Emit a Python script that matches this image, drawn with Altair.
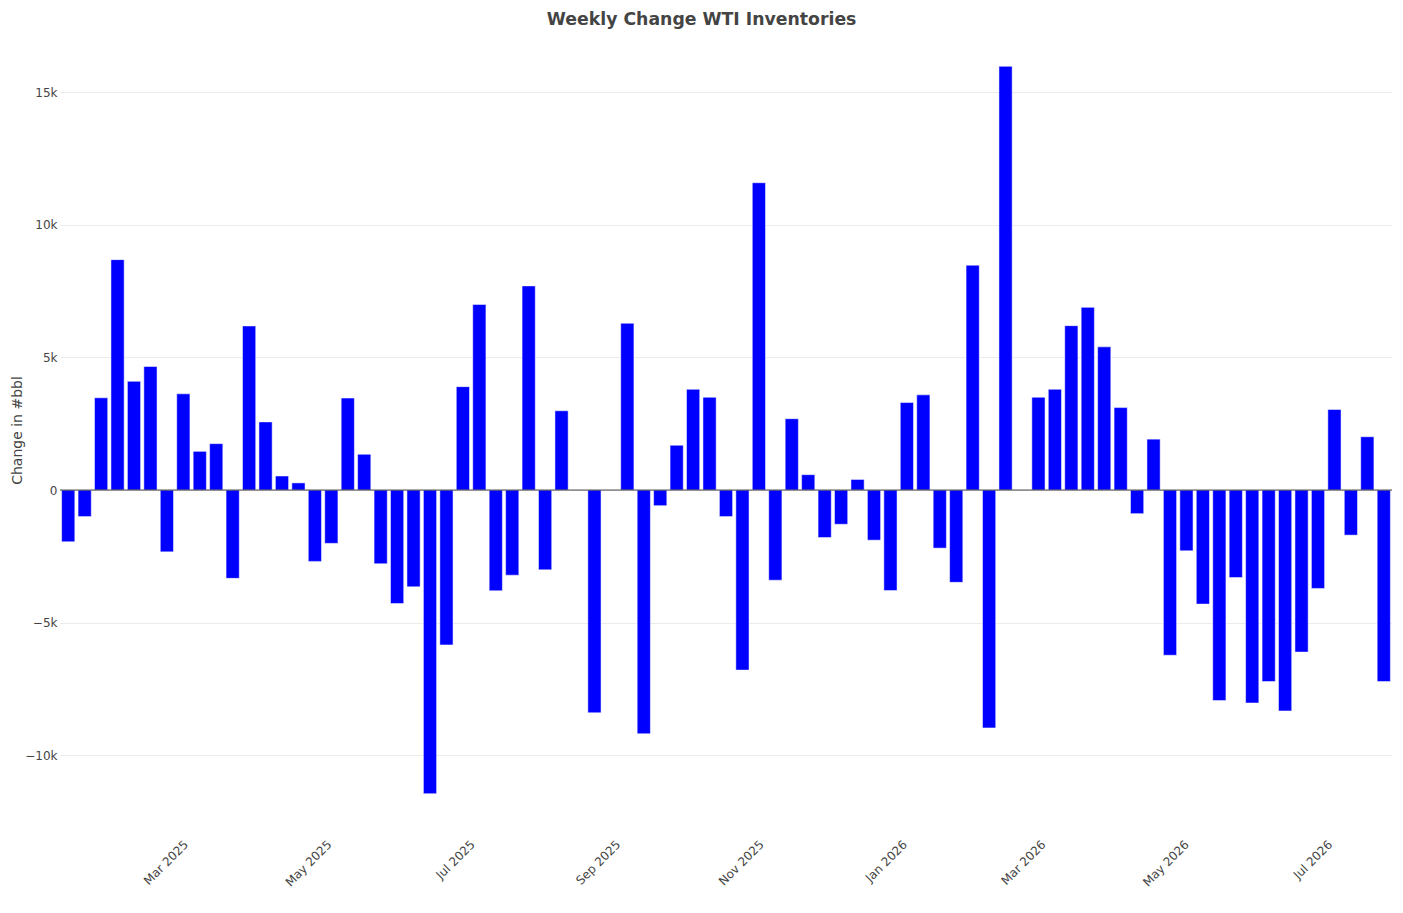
import altair as alt
import pandas as pd

# ---- data ----
start_date = "2025-01-10"
n_weeks = 81
changes = [
    -1950, -1000, 3480, 8690, 4100, 4660, -2330, 3630, 1460, 1750,
    -3330, 6190, 2570, 530, 270, -2690, -2010, 3470, 1350, -2780,
    -4280, -3650, -11450, -5840, 3900, 7000, -3800, -3210, 7700, -3010,
    2990, None, -8400, None, 6290, -9190, -590, 1690, 3800, 3500,
    -1000, -6790, 11590, -3400, 2690, 580, -1790, -1290, 400, -1890,
    -3790, 3300, 3590, -2190, -3480, 8480, -8970, 15980, None, 3500,
    3800, 6200, 6890, 5400, 3110, -890, 1920, -6230, -2290, -4300,
    -7940, -3300, -8030, -7220, -8330, -6110, -3710, 3040, -1700, 2010,
    -7220,
]
x_tick_months = [(2025, 3), (2025, 5), (2025, 7), (2025, 9), (2025, 11),
                 (2026, 1), (2026, 3), (2026, 5), (2026, 7)]
y_ticks = [-10000, -5000, 0, 5000, 10000, 15000]

dates = pd.date_range(start_date, periods=n_weeks, freq="7D")
df = pd.DataFrame({"date": dates.strftime("%Y-%m-%dT%H:%M:%S"), "change": changes})
df = df.dropna()
zero_df = pd.DataFrame({"change": [0]})

FONT = "DejaVu Sans"
TXT = "#444444"

x_scale = alt.Scale(
    domain=[alt.DateTime(year=2025, month=1, date=6, hours=12),
            alt.DateTime(year=2026, month=7, date=27, hours=12)],
    nice=False, padding=0,
)
y_scale = alt.Scale(domain=[-12820, 17350], nice=False, zero=False, padding=0)

x_axis = alt.Axis(
    values=[alt.DateTime(year=y, month=m, date=1) for y, m in x_tick_months],
    format="%b %Y", labelAngle=-45, labelAlign="right", labelBaseline="middle",
    labelPadding=12, ticks=False, domain=False, grid=False,
    labelFont=FONT, labelFontSize=12, labelColor=TXT, title=None,
)
y_axis = alt.Axis(
    values=y_ticks, ticks=False, domain=False, grid=True,
    labelExpr="datum.value == 0 ? '0' : format(datum.value, '~s')",
    gridColor="#ebebeb", gridWidth=1, labelPadding=3,
    labelFont=FONT, labelFontSize=12, labelColor=TXT,
    title="Change in #bbl", titleFont=FONT, titleFontSize=14,
    titleFontWeight="normal", titleColor=TXT, titlePadding=0,
)

zero = alt.Chart(zero_df).mark_rule(color="#444444", strokeWidth=1).encode(
    y=alt.Y("change:Q", scale=y_scale, axis=y_axis)
)

bars = alt.Chart(df).mark_bar(
    width=13.2, color="#0000ff", stroke="white", strokeWidth=0.5
).encode(
    x=alt.X("date:T", scale=x_scale, axis=x_axis),
    y=alt.Y("change:Q", scale=y_scale, axis=y_axis),
)

chart = alt.layer(bars, zero).properties(
    width=1332,
    height=800,
    autosize=alt.AutoSizeParams(type="none"),
    padding={"left": 52, "top": 22, "right": 2, "bottom": 60},
    title=alt.Title(
        "Weekly Change WTI Inventories", font=FONT, fontSize=17.3,
        fontWeight="bold", color=TXT, anchor="middle", frame="bounds",
        offset=2, dx=0,
    ),
    background="white",
).configure_view(stroke=None)

chart.save("out.html", embed_options={"renderer": "svg", "actions": False})
